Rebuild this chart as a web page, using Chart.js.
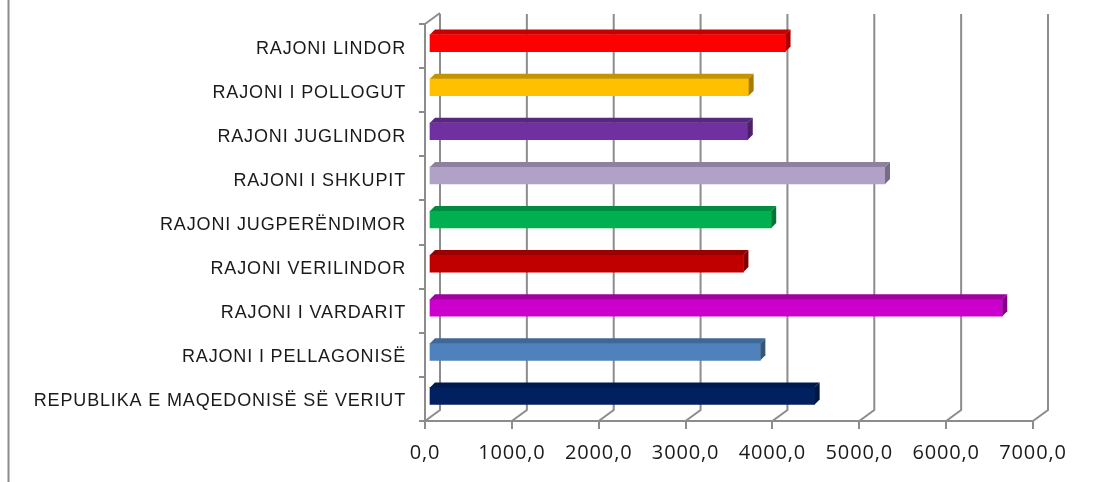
<!DOCTYPE html>
<html>
<head>
<meta charset="utf-8">
<style>html,body{margin:0;padding:0;background:#fff}canvas{display:block}</style>
<script src="https://cdn.jsdelivr.net/npm/chart.js@4"></script>
</head>
<body>
<canvas id="c" width="1112" height="482"></canvas>
<script>
const categories = ["RAJONI LINDOR","RAJONI I POLLOGUT","RAJONI JUGLINDOR","RAJONI I SHKUPIT","RAJONI JUGPERËNDIMOR","RAJONI VERILINDOR","RAJONI I VARDARIT","RAJONI I PELLAGONISË","REPUBLIKA E MAQEDONISË SË VERIUT"];
const values = [4105,3680,3670,5250,3940,3620,6600,3815,4440];
const frontColors = ["#FF0000","#FFC000","#7030A0","#B2A1C7","#00B050","#C00000","#CC00CC","#4F81BD","#002060"];
const topColors = ["#C80000","#C49300","#592680","#8E809F","#008C40","#980000","#A000A0","#3F6797","#001A4D"];
const sideColors = ["#A80000","#A67C00","#4B2069","#776B85","#007535","#800000","#860086","#355676","#001540"];
const AXIS = "#8C8C8C";
const DX = 15, DY = 11, BAR_DX = 4, BAR_DY = -3, SIDE_X = 5, SIDE_Y = 5, LABEL_SHIFT = 2.5;

const scene = {
  id: "scene",
  beforeDraw(chart) {
    const {ctx, scales:{y}} = chart;
    ctx.letterSpacing = "0.85px";
    if (!y.__shifted) {
      y.__shifted = true;
      const base = Object.getPrototypeOf(y).drawLabels;
      y.drawLabels = function(area) {
        ctx.save();
        ctx.translate(0, LABEL_SHIFT);
        base.call(this, area);
        ctx.restore();
      };
    }
  },
  beforeDatasetsDraw(chart) {
    const {ctx, scales:{x, y}} = chart;
    ctx.save();
    ctx.strokeStyle = AXIS;
    ctx.lineWidth = 2;
    ctx.beginPath();
    ctx.moveTo(8.5, 0); ctx.lineTo(8.5, 482);
    x.ticks.forEach(t => {
      const px = x.getPixelForValue(t.value);
      ctx.moveTo(px, y.bottom);
      ctx.lineTo(px + DX, y.bottom - DY);
      ctx.lineTo(px + DX, y.top - DY + 1);
    });
    ctx.moveTo(x.left, y.top);
    ctx.lineTo(x.left + DX, y.top - DY);
    ctx.stroke();
    ctx.restore();
    ctx.save();
    ctx.translate(BAR_DX, BAR_DY);
  },
  afterDatasetsDraw(chart) {
    const {ctx} = chart;
    chart.getDatasetMeta(0).data.forEach((b, i) => {
      const t = b.y - b.height / 2, bt = b.y + b.height / 2, l = b.base, r = b.x;
      ctx.fillStyle = topColors[i];
      ctx.beginPath();
      ctx.moveTo(l, t); ctx.lineTo(l + SIDE_X, t - SIDE_Y); ctx.lineTo(r + SIDE_X, t - SIDE_Y); ctx.lineTo(r, t);
      ctx.closePath(); ctx.fill();
      ctx.fillStyle = sideColors[i];
      ctx.beginPath();
      ctx.moveTo(r, t); ctx.lineTo(r + SIDE_X, t - SIDE_Y); ctx.lineTo(r + SIDE_X, bt - SIDE_Y); ctx.lineTo(r, bt);
      ctx.closePath(); ctx.fill();
    });
    ctx.restore();
  }
};

new Chart(document.getElementById("c"), {
  type: "bar",
  data: {labels: categories, datasets: [{data: values, backgroundColor: frontColors, barThickness: 17, borderWidth: 0, clip: false}]},
  options: {
    indexAxis: "y",
    responsive: false,
    animation: false,
    events: [],
    layout: {padding: {top: 24, right: 79, bottom: 0, left: 0}},
    plugins: {legend: {display: false}, tooltip: {enabled: false}, title: {display: false}},
    scales: {
      x: {
        min: 0, max: 7000,
        afterFit(s) { s.height = 61; },
        grid: {drawOnChartArea: false, drawTicks: true, tickLength: 8, color: AXIS, lineWidth: 2},
        border: {color: AXIS, width: 2},
        ticks: {stepSize: 1000, padding: 12, color: "#1a1a1a", maxRotation: 0,
          font: {family: "'Open Sans'", size: 20},
          callback: v => v.toFixed(1).replace(".", ",")}
      },
      y: {
        afterFit(s) { s.width = 425; },
        grid: {drawOnChartArea: false, drawTicks: true, tickLength: 6, color: AXIS, lineWidth: 2, offset: true},
        border: {color: AXIS, width: 2},
        ticks: {padding: 13, color: "#1a1a1a", autoSkip: false,
          font: {family: "'Liberation Sans'", size: 18}}
      }
    }
  },
  plugins: [scene]
});
</script>
</body>
</html>
